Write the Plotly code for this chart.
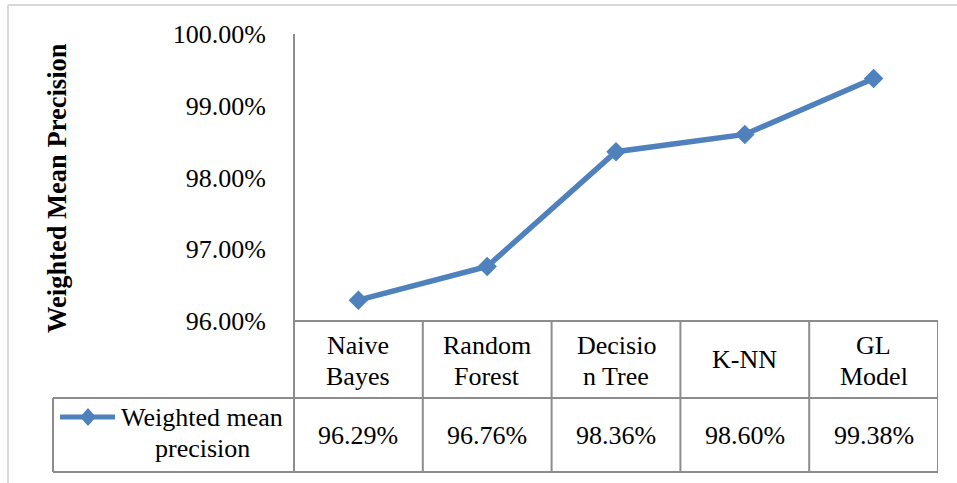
import plotly.graph_objects as go

categories = ["Naive Bayes", "Random Forest", "Decision Tree", "K-NN", "GL Model"]
header_lines = [["Naive", "Bayes"], ["Random", "Forest"], ["Decisio", "n Tree"], ["K-NN"], ["GL", "Model"]]
precision = [0.9629, 0.9676, 0.9836, 0.9860, 0.9938]
series_name_lines = ["Weighted mean", "precision"]
y_title = "Weighted Mean Precision"
y_ticks = [0.96, 0.97, 0.98, 0.99, 1.00]

W, H = 957, 483
L, R, T, B = 294, 19, 34, 162
PW, PH = W - L - R, H - T - B
FONT = "Liberation Serif"
BLUE = "#4F81BD"
GRID = "#8C8C8C"


def xp(px):
    return (px - L) / PW


def yp(py):
    return (H - B - py) / PH


fig = go.Figure()
fig.add_trace(go.Scatter(
    x=categories, y=precision, mode="lines+markers",
    line=dict(color=BLUE, width=5.5),
    marker=dict(symbol="diamond", size=15, color=BLUE),
    showlegend=False, cliponaxis=False, hoverinfo="skip",
))

shapes = []
annotations = []


def hline(y, x0, x1, color=GRID, w=2):
    shapes.append(dict(type="line", xref="paper", yref="paper",
                       x0=xp(x0), x1=xp(x1), y0=yp(y), y1=yp(y),
                       line=dict(color=color, width=w)))


def vline_px(x, y0, y1, color=GRID, w=2):
    shapes.append(dict(type="line", xref="paper", yref="paper",
                       x0=xp(x), x1=xp(x), y0=yp(y0), y1=yp(y1),
                       line=dict(color=color, width=w)))


# outer chart border (light)
hline(5, 8, 957, color="#D9D9D9", w=2)
vline_px(8, 5, 483, color="#D9D9D9", w=2)

# axis line and table grid
vline_px(294, 34, 472)
hline(321, 294, 938)
hline(398, 53, 938)
hline(472, 53, 938)
vline_px(53, 398, 472)
for i in range(1, len(categories) + 1):
    shapes.append(dict(type="line", xref="x", yref="paper",
                       x0=i - 0.5, x1=i - 0.5, y0=yp(321), y1=yp(472),
                       line=dict(color=GRID, width=2)))

# legend key in table
hline(417, 60, 115, color=BLUE, w=5)
cx, cy = 88, 417
path = "M {} {} L {} {} L {} {} L {} {} Z".format(
    xp(cx - 8), yp(cy), xp(cx), yp(cy - 9), xp(cx + 8), yp(cy), xp(cx), yp(cy + 9))
shapes.append(dict(type="path", xref="paper", yref="paper", path=path,
                   fillcolor=BLUE, line=dict(color=BLUE, width=0)))

fsize = 26
# header category labels
for i, lines in enumerate(header_lines):
    if len(lines) == 1:
        ys = [359.5]
    else:
        ys = [345, 376]
    for ln, yy in zip(lines, ys):
        annotations.append(dict(x=i, xref="x", y=yp(yy), yref="paper", text=ln,
                                showarrow=False, xanchor="center", yanchor="middle",
                                font=dict(family=FONT, size=fsize, color="black")))
# values row
for i, v in enumerate(precision):
    annotations.append(dict(x=i, xref="x", y=yp(435), yref="paper",
                            text="{:.2f}%".format(v * 100),
                            showarrow=False, xanchor="center", yanchor="middle",
                            font=dict(family=FONT, size=fsize, color="black")))
# legend text
for ln, yy in zip(series_name_lines, [417, 449]):
    annotations.append(dict(x=xp(202), xref="paper", y=yp(yy), yref="paper", text=ln,
                            showarrow=False, xanchor="center", yanchor="middle",
                            font=dict(family=FONT, size=fsize, color="black")))
# y-axis title
annotations.append(dict(x=xp(57), xref="paper", y=yp(188), yref="paper",
                        text="<b>" + y_title + "</b>", textangle=-90,
                        showarrow=False, xanchor="center", yanchor="middle",
                        font=dict(family=FONT, size=26.5, color="black")))

fig.update_layout(
    width=W, height=H,
    margin=dict(l=L, r=R, t=T, b=B, pad=0),
    paper_bgcolor="white", plot_bgcolor="white",
    shapes=shapes, annotations=annotations,
    xaxis=dict(type="category", range=[-0.5, len(categories) - 0.5],
               showticklabels=False, showgrid=False, zeroline=False,
               showline=False, ticks=""),
    yaxis=dict(range=[0.96, 1.00], tickvals=y_ticks, tickformat=".2%",
               showgrid=False, zeroline=False, showline=False, ticks="",
               ticklabelstandoff=27,
               tickfont=dict(family=FONT, size=fsize, color="black")),
)

fig.write_html("out.html", config={"displayModeBar": False},
               post_script="document.body.style.margin='0';")
